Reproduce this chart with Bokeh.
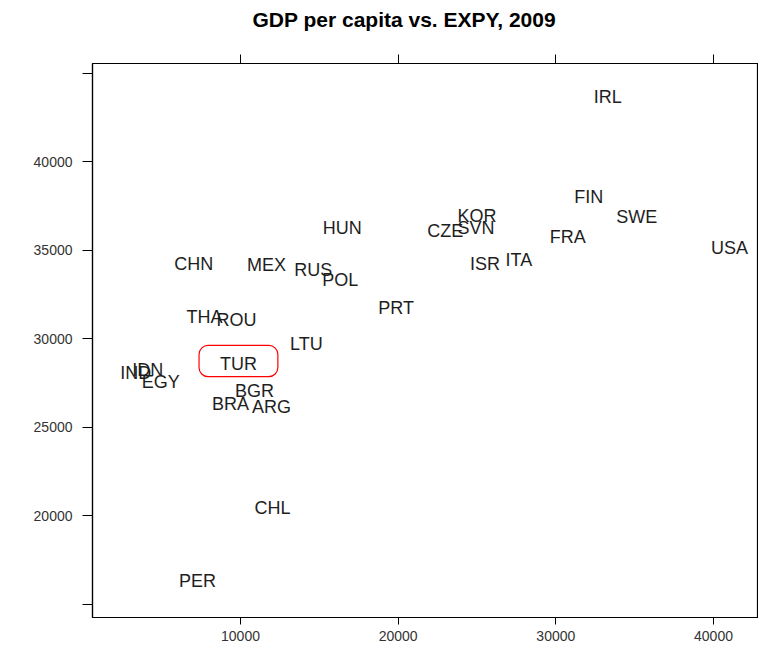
from bokeh.plotting import figure
from bokeh.models import ColumnDataSource, LinearAxis, FixedTicker, BoxAnnotation, Range1d, Title
from bokeh.core.properties import value
from bokeh.embed import file_html
from bokeh.resources import INLINE

countries = ["IRL", "FIN", "SWE", "FRA", "USA", "KOR", "SVN", "CZE", "ISR", "ITA",
             "HUN", "CHN", "MEX", "RUS", "POL", "PRT", "THA", "ROU", "LTU", "TUR",
             "IND", "IDN", "EGY", "BGR", "BRA", "ARG", "CHL", "PER"]
gdp_pc = [33290, 32090, 35130, 30760, 41010, 25000, 24940, 22980, 25510, 27660,
          16460, 7030, 11650, 14620, 16330, 19870, 7720, 9750, 14180, 9870,
          3350, 4110, 4940, 10890, 9370, 11960, 12030, 7280]
expy = [43670, 37970, 36840, 35710, 35140, 36950, 36270, 36050, 34240, 34460,
        36220, 34240, 34180, 33900, 33330, 31700, 31190, 31020, 29720, 28590,
        28080, 28250, 27570, 27060, 26330, 26160, 20400, 16330]

x_ticks = [10000, 20000, 30000, 40000]
y_ticks = [20000, 25000, 30000, 35000, 40000]
y_minor_ticks = [15000, 45000]
highlight = "TUR"

FONT = "Liberation Sans"

p = figure(width=758, height=647, output_backend="svg", toolbar_location=None,
           x_range=Range1d(613, 42854), y_range=Range1d(14240, 45540),
           x_axis_location=None, y_axis_location=None,
           min_border_left=92, min_border_right=0, min_border_top=63, min_border_bottom=30)
p.grid.visible = False
p.outline_line_color = "black"
p.outline_line_width = 1.2
p.background_fill_color = "white"
p.border_fill_color = "white"

def style_axis(ax, tick_len):
    ax.axis_line_color = "black"
    ax.axis_line_width = 1.2
    ax.major_tick_line_color = "black"
    ax.major_tick_in = 0
    ax.major_tick_out = tick_len
    ax.minor_tick_line_color = "black"
    ax.minor_tick_in = 0
    ax.minor_tick_out = tick_len
    ax.major_label_text_font = FONT
    ax.major_label_text_font_size = "14px"
    ax.major_label_text_color = "#333333"

xb = LinearAxis(ticker=FixedTicker(ticks=x_ticks, minor_ticks=[]))
style_axis(xb, 7)
xb.major_label_standoff = 6
p.add_layout(xb, "below")

# top side: ticks only, no labels
xa = LinearAxis(ticker=FixedTicker(ticks=[], minor_ticks=x_ticks))
style_axis(xa, 9)
p.add_layout(xa, "above")

yl = LinearAxis(ticker=FixedTicker(ticks=y_ticks, minor_ticks=y_minor_ticks))
style_axis(yl, 10)
yl.major_label_standoff = 10
yl.major_label_orientation = "horizontal"
p.add_layout(yl, "left")

title = Title(text="GDP per capita vs. EXPY, 2009", align="left", offset=160,
              text_font=FONT, text_font_size="21px", text_font_style="bold",
              text_color="black", standoff=10,
              padding=dict(left=0, right=0, top=0, bottom=19))
p.add_layout(title, "above")

src = ColumnDataSource(dict(x=gdp_pc, y=expy, label=countries))
p.text(x="x", y="y", text="label", source=src, text_align="center",
       text_baseline="middle", text_font=value(FONT), text_font_size="18px",
       text_color="#1e1e1e")

i = countries.index(highlight)
hx, hy = gdp_pc[i], expy[i]
pad_x, pad_y = 2500, 880
box = BoxAnnotation(left=hx - pad_x, right=hx + pad_x, bottom=hy - pad_y + 140,
                    top=hy + pad_y + 140, fill_color=None, fill_alpha=0,
                    line_color="#ff0000", line_alpha=1.0, line_width=1.2,
                    border_radius=9)
p.add_layout(box)

open("out.html", "w").write(file_html(p, INLINE))
